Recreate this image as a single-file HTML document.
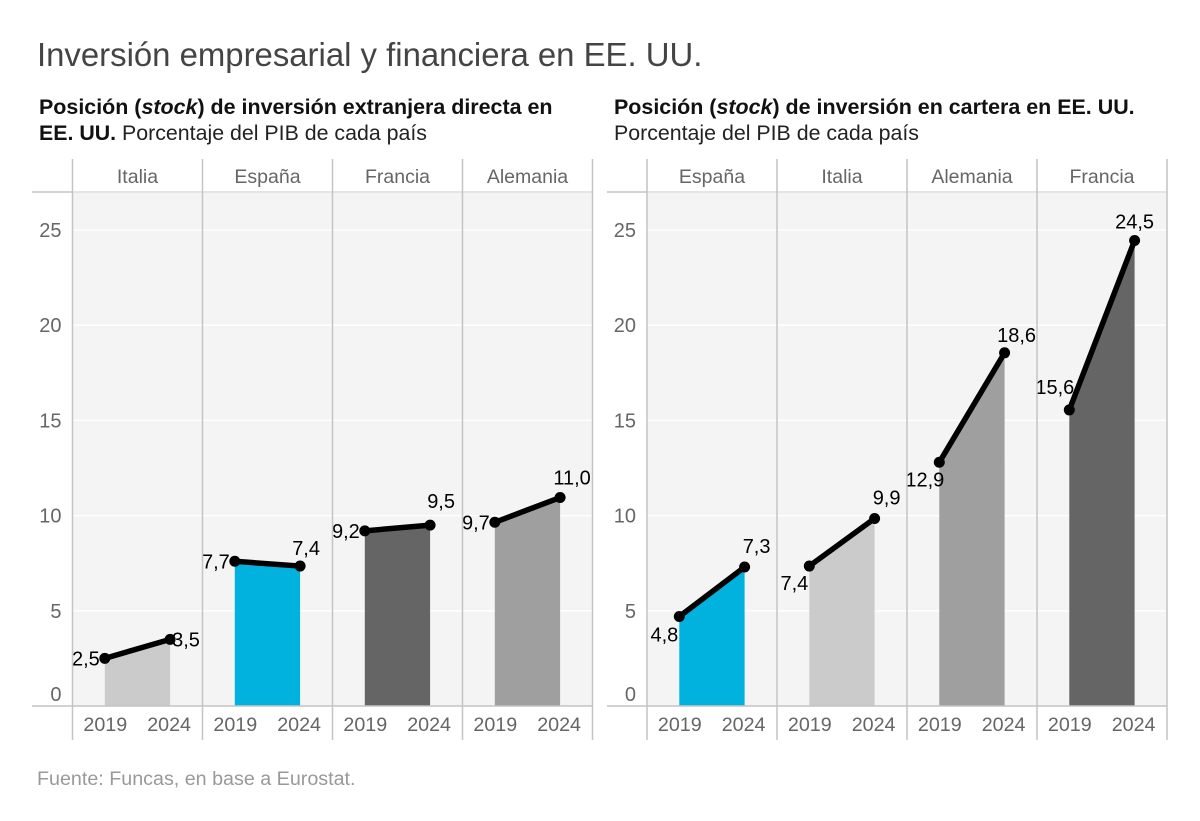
<!DOCTYPE html>
<html lang="es">
<head>
<meta charset="utf-8">
<title>Inversión empresarial y financiera en EE. UU.</title>
<style>
html,body{margin:0;padding:0;background:#fff;}
svg{display:block;font-family:"Liberation Sans",sans-serif;}
</style>
</head>
<body>
<svg id="chart" xmlns="http://www.w3.org/2000/svg" width="1200" height="821" viewBox="0 0 1200 821">
  <rect width="1200" height="821" fill="#fff"/>
  <text x="37" y="66" font-size="32.9" fill="#444">Inversión empresarial y financiera en EE. UU.</text>
  <text x="39" y="114" font-size="21.45" font-weight="bold" fill="#111">Posición (<tspan font-style="italic">stock</tspan>) de inversión extranjera directa en</text>
  <text x="39" y="140" font-size="21.35" fill="#222"><tspan font-weight="bold" fill="#111">EE. UU.</tspan> Porcentaje del PIB de cada país</text>
  <text x="614" y="114" font-size="21.45" font-weight="bold" fill="#111">Posición (<tspan font-style="italic">stock</tspan>) de inversión en cartera en EE. UU.</text>
  <text x="614" y="140" font-size="21.35" fill="#222">Porcentaje del PIB de cada país</text>
  <text x="37" y="785" font-size="19.7" fill="#999">Fuente: Funcas, en base a Eurostat.</text>
  <g id="plots"></g>
</svg>
<script>
const years = ['2019', '2024'];
const yTicks = [0, 5, 10, 15, 20, 25];

const leftCountries = ['Italia', 'España', 'Francia', 'Alemania'];
const leftItalia = [2.5, 3.5];
const leftEspana = [7.6, 7.35];
const leftFrancia = [9.2, 9.5];
const leftAlemania = [9.65, 10.95];
const leftLabels = [['2,5', '3,5'], ['7,7', '7,4'], ['9,2', '9,5'], ['9,7', '11,0']];

const rightCountries = ['España', 'Italia', 'Alemania', 'Francia'];
const rightEspana = [4.7, 7.3];
const rightItalia = [7.35, 9.85];
const rightAlemania = [12.8, 18.55];
const rightFrancia = [15.55, 24.45];
const rightLabels = [['4,8', '7,3'], ['7,4', '9,9'], ['12,9', '18,6'], ['15,6', '24,5']];

const colorByCountry = {'Italia': '#cbcbcb', 'España': '#00b2dd', 'Francia': '#656565', 'Alemania': '#9f9f9f'};

const NS = 'http://www.w3.org/2000/svg';
const root = document.getElementById('plots');
const PANEL_W = 130, TOP = 192, STRIP_TOP = 159, BOTTOM = 706, TICK_BOTTOM = 740;
const PX_PER_UNIT = 19.04;
const yScale = v => BOTTOM - v * PX_PER_UNIT;
const xScale = (panelX, i) => panelX + 32.3 + i * 65.3;

function add(parent, tag, attrs, text) {
  const el = document.createElementNS(NS, tag);
  for (const k in attrs) el.setAttribute(k, attrs[k]);
  if (text !== undefined) el.textContent = text;
  parent.appendChild(el);
  return el;
}

// Label placement relative to its point: [dx, dy, anchor]
function labelPos(side, i, p) {
  if (side === 'left') {
    if (i === 0) return [p === 0 ? -5 : -5, 7, 'end'];
    return [[2, 7, 'start'], [6, -11, 'middle'], [11, -17, 'middle'], [12, -13, 'middle']][p];
  }
  if (i === 0) return [[-1, 25, 'end'], [-1, 24, 'end'], [5, 24, 'end'], [5, -16, 'end']][p];
  return [[12, -14, 'middle'], [12, -14, 'middle'], [12, -11, 'middle'], [0, -12, 'middle']][p];
}

function drawPlot(side, axisLeft, x0, countries, seriesList, labels) {
  const g = add(root, 'g', {});
  
  
  const xEnd = x0 + PANEL_W * countries.length;

  const bg = add(g, 'rect', {x: x0, y: TOP, width: xEnd - x0, height: BOTTOM - TOP, fill: '#f4f4f4'});
  
  

  yTicks.forEach(t => {
    if (t > 0) {
      const grid = add(g, 'line', {x1: x0, x2: xEnd, y1: yScale(t), y2: yScale(t), stroke: '#fff', 'stroke-width': 1.3});
      
      
    }
    const tickY = t === 0 ? yScale(t) - 5 : yScale(t) + 7;
    const lab = add(g, 'text', {x: x0 - 11, y: tickY, 'font-size': 20, fill: '#666', 'text-anchor': 'end'}, String(t));
    
    
  });

  countries.forEach((name, p) => {
    const px = x0 + p * PANEL_W;
    const values = seriesList[p];
    const key = name.toLowerCase().replace('ñ', 'n');
    const xa = xScale(px, 0), xb = xScale(px, 1);
    const ya = yScale(values[0]), yb = yScale(values[1]);

    const strip = add(g, 'text', {x: px + PANEL_W / 2, y: 183, 'font-size': 19.5, fill: '#666', 'text-anchor': 'middle'}, name);
    
    

    const area = add(g, 'polygon', {points: `${xa},${BOTTOM} ${xa},${ya} ${xb},${yb} ${xb},${BOTTOM}`, fill: colorByCountry[name]});
    
    

    const line = add(g, 'line', {x1: xa, y1: ya, x2: xb, y2: yb, stroke: '#000', 'stroke-width': 5.5});
    
    

    values.forEach((v, i) => {
      const cx = xScale(px, i), cy = yScale(v);
      const dot = add(g, 'circle', {cx: cx, cy: cy, r: 5.5, fill: '#000'});
      
      

      const pos = labelPos(side, i, p);
      const val = add(g, 'text', {x: cx + pos[0], y: cy + pos[1], 'font-size': 20, fill: '#000', 'text-anchor': pos[2]}, labels[p][i]);
      
      

      const yr = add(g, 'text', {x: cx + (i === 1 ? -1 : 0.5), y: 731, 'font-size': 19.7, fill: '#666', 'text-anchor': 'middle'}, years[i]);
      
      
    });
  });

  const topLine = add(g, 'line', {x1: x0, x2: xEnd, y1: TOP, y2: TOP, stroke: '#e4e4e4', 'stroke-width': 2});
  
  

  const topAxis = add(g, 'line', {x1: axisLeft, x2: x0, y1: TOP, y2: TOP, stroke: '#c4c4c4', 'stroke-width': 1.5});
  
  

  const xAxis = add(g, 'line', {x1: axisLeft, x2: xEnd, y1: BOTTOM, y2: BOTTOM, stroke: '#c4c4c4', 'stroke-width': 1.5});
  
  

  for (let p = 0; p <= countries.length; p++) {
    const sep = add(g, 'line', {x1: x0 + p * PANEL_W, x2: x0 + p * PANEL_W, y1: STRIP_TOP, y2: TICK_BOTTOM, stroke: '#c4c4c4', 'stroke-width': 1.5});
    
    
  }
}

drawPlot('left', 32, 72.5, leftCountries, [leftItalia, leftEspana, leftFrancia, leftAlemania], leftLabels);
drawPlot('right', 607, 647, rightCountries, [rightEspana, rightItalia, rightAlemania, rightFrancia], rightLabels);
</script>
</body>
</html>
